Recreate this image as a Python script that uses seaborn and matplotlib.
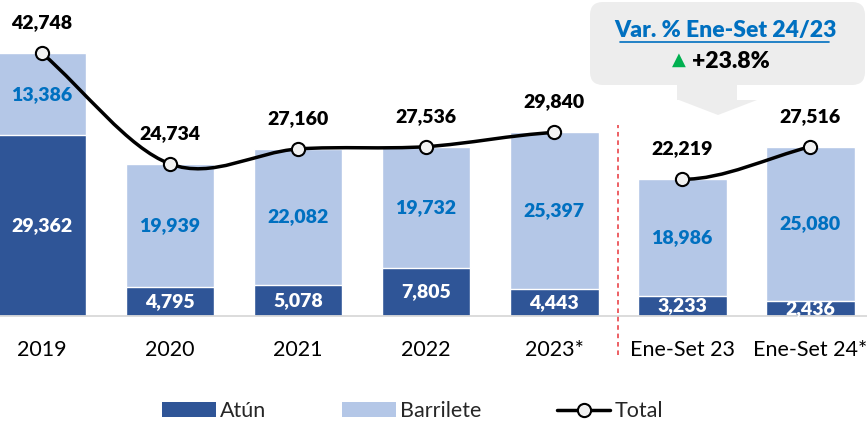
import numpy as np
import pandas as pd
import matplotlib
matplotlib.use("Agg")
import matplotlib.pyplot as plt
import seaborn as sns
from matplotlib.path import Path
from matplotlib.patches import PathPatch, FancyBboxPatch, Polygon, Patch
from matplotlib.lines import Line2D

# data
categories = ["2019", "2020", "2021", "2022", "2023*", "Ene-Set 23", "Ene-Set 24*"]
atun = [29362, 4795, 5078, 7805, 4443, 3233, 2436]
barrilete = [13386, 19939, 22082, 19732, 25397, 18986, 25080]
total = [42748, 24734, 27160, 27536, 29840, 22219, 27516]
var_title = "Var. % Ene-Set 24/23"
var_value = "+23.8%"

DARK = "#2F5597"
LIGHT = "#B4C7E7"
BLUE_TXT = "#0070C0"
BOLD = "heavy"

sns.set_theme(style="white")
plt.rcParams["font.family"] = ["Lato", "DejaVu Sans"]

df = pd.DataFrame({"cat": categories, "atun": atun, "barrilete": barrilete, "total": total})
df["stack"] = df["atun"] + df["barrilete"]

fig = plt.figure(figsize=(8.67, 4.24), dpi=100)
ax = fig.add_axes([0, 0.2547, 1, 0.7453])

sns.barplot(data=df, x="cat", y="stack", color=LIGHT, saturation=1, width=0.695, ax=ax)
sns.barplot(data=df, x="cat", y="atun", color=DARK, saturation=1, width=0.695, ax=ax)

ax.set_xlim(-0.328, 6.445)
ax.set_ylim(0, 51380)
ax.set_xlabel("")
ax.set_ylabel("")
ax.set_yticks([])
for s in ["top", "left", "right"]:
    ax.spines[s].set_visible(False)
ax.spines["bottom"].set_color("#D9D9D9")
ax.spines["bottom"].set_linewidth(1.3)
ax.tick_params(axis="x", length=0, pad=17, labelsize=15.5, labelcolor="black")

# labels inside bars
for i, row in df.iterrows():
    ax.text(i, row["atun"] / 2, f"{row['atun']:,}", ha="center", va="center",
            color="white", fontsize=14, fontweight=BOLD)
    ax.text(i, row["atun"] + row["barrilete"] / 2, f"{row['barrilete']:,}", ha="center",
            va="center", color=BLUE_TXT, fontsize=14, fontweight=BOLD)


# smoothed total line (Hermite -> Bezier)
def smooth_path(xs, ys, start_k, end_k):
    n = len(xs)
    m = []
    for i in range(n):
        if i == 0:
            m.append(start_k * (ys[1] - ys[0]) / (xs[1] - xs[0]))
        elif i == n - 1:
            m.append(end_k * (ys[-1] - ys[-2]) / (xs[-1] - xs[-2]))
        else:
            m.append((ys[i + 1] - ys[i - 1]) / (xs[i + 1] - xs[i - 1]))
    verts = [(xs[0], ys[0])]
    codes = [Path.MOVETO]
    for i in range(n - 1):
        h = xs[i + 1] - xs[i]
        verts += [(xs[i] + h / 3, ys[i] + m[i] * h / 3),
                  (xs[i + 1] - h / 3, ys[i + 1] - m[i + 1] * h / 3),
                  (xs[i + 1], ys[i + 1])]
        codes += [Path.CURVE4] * 3
    return Path(verts, codes)


x = np.arange(len(categories))
segments = [(slice(0, 5), 1.0, 0.5), (slice(5, 7), 0.0, 1.0)]
for sl, k0, k1 in segments:
    p = smooth_path(list(x[sl]), total[sl], k0, k1)
    ax.add_patch(PathPatch(p, facecolor="none", edgecolor="black", lw=2.5, zorder=4))

ax.plot(x, total, ls="none", marker="o", ms=9.5, mfc="#F2F2F2", mec="black", mew=1.5, zorder=5)
for i, v in enumerate(total):
    ax.annotate(f"{v:,}", (i, v), xytext=(0, 22), textcoords="offset points",
                ha="center", va="center", fontsize=14, fontweight=BOLD, color="black")

# separator
ax.plot([4.5, 4.5], [-6300, 31000], ls=(0, (3, 2.5)), color="#E8343A", lw=1.1, clip_on=False, zorder=3)

# callout
tr = fig.dpi_scale_trans
fig.patches.append(FancyBboxPatch((5.90, 3.39), 2.75, 0.83,
                                  boxstyle="round,pad=0,rounding_size=0.13",
                                  facecolor="#EDEDED", edgecolor="none", transform=tr, figure=fig))
arrow = [(6.77, 3.40), (7.37, 3.40), (7.37, 3.24), (7.57, 3.24), (7.18, 3.09),
         (6.79, 3.24), (6.77, 3.24)]
fig.patches.append(Polygon(arrow, closed=True, facecolor="#EDEDED", edgecolor="none",
                           transform=tr, figure=fig))
fig.text(7.25, 3.93, var_title, transform=tr, ha="center", va="center", color=BLUE_TXT,
         fontsize=16.5, fontweight=BOLD)
fig.lines.append(Line2D([6.20, 8.29], [3.82, 3.82], color=BLUE_TXT, lw=1.2, transform=tr, figure=fig))
fig.text(6.79, 3.64, "▲", transform=tr, ha="center", va="center", color="#00B050",
         fontsize=13, family=["DejaVu Sans"])
fig.text(6.92, 3.63, var_value, transform=tr, ha="left", va="center", color="black",
         fontsize=16.5, fontweight=BOLD)

# legend
handles = [Patch(facecolor=DARK, edgecolor="none"),
           Patch(facecolor=LIGHT, edgecolor="none"),
           Line2D([], [], color="black", lw=2.5, marker="o", ms=9.5, mfc="#F2F2F2",
                  mec="black", mew=1.5)]
fig.legend(handles, ["Atún", "Barrilete", "Total"], loc="center", bbox_to_anchor=(0.476, 0.03),
           ncol=3, frameon=False, fontsize=15.5, handlelength=2.5, handleheight=0.7,
           handletextpad=0.2, columnspacing=3.5)

fig.savefig("out.png", dpi=100)
